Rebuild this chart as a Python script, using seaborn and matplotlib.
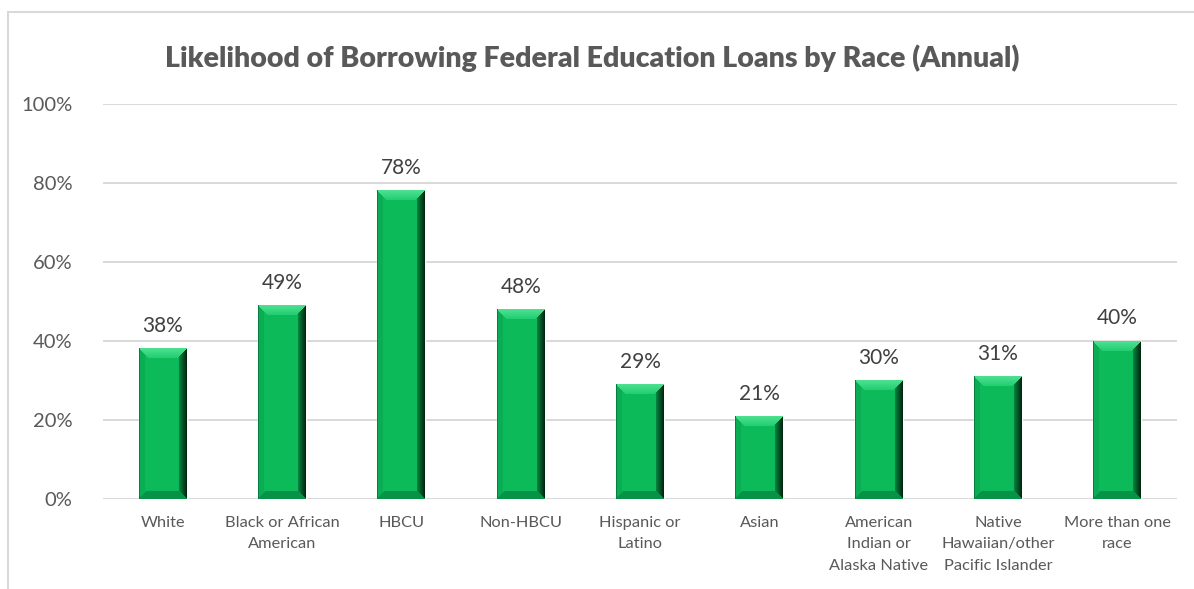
import numpy as np
import pandas as pd
import matplotlib
matplotlib.use("Agg")
import matplotlib.pyplot as plt
from matplotlib.patches import Rectangle
import seaborn as sns

categories = ["White", "Black or African\nAmerican", "HBCU", "Non-HBCU",
              "Hispanic or\nLatino", "Asian", "American\nIndian or\nAlaska Native",
              "Native\nHawaiian/other\nPacific Islander", "More than one\nrace"]
values = [0.38, 0.49, 0.78, 0.48, 0.29, 0.21, 0.30, 0.31, 0.40]
labels = ["38%", "49%", "78%", "48%", "29%", "21%", "30%", "31%", "40%"]
yticks = [0, 0.2, 0.4, 0.6, 0.8, 1.0]
ytick_labels = ["0%", "20%", "40%", "60%", "80%", "100%"]
title = "Likelihood of Borrowing Federal Education Loans by Race (Annual)"

sns.set_theme(style="white")
plt.rcParams['font.family'] = ['Lato', 'DejaVu Sans']

W, H, DPI = 1194, 589, 100
fig = plt.figure(figsize=(W / DPI, H / DPI), dpi=DPI)
ax = fig.add_axes([103 / W, 1 - 499 / H, (1177 - 103) / W, (499 - 104) / H])

df = pd.DataFrame({"cat": categories, "val": values})
sns.barplot(data=df, x="cat", y="val", color="#0CB556", width=0.4,
            saturation=1, ax=ax, zorder=2)

ax.set_ylim(0, 1.0)
ax.set_xlim(-0.5, len(categories) - 0.5)
ax.set_yticks(yticks)
ax.set_yticklabels(ytick_labels, fontsize=14.5, color="#595959")
ax.set_xticks(range(len(categories)))
ax.set_xticklabels(categories, fontsize=11.8, color="#595959", linespacing=1.68)
ax.tick_params(axis="y", length=0, pad=22)
ax.tick_params(axis="x", length=0, pad=12)
ax.set_xlabel("")
ax.set_ylabel("")
for s in ax.spines.values():
    s.set_visible(False)
ax.yaxis.grid(True, color="#D9D9D9", linewidth=1.4, zorder=0)
ax.set_axisbelow(True)

fig.canvas.draw()

# bevel shading for each bar
def bevel_image(wp, hp, b=8):
    img = np.zeros((hp, wp, 3))
    jj, ii = np.meshgrid(np.arange(wp), np.arange(hp))
    dt = ii
    db = hp - 1 - ii
    dl = jj
    dr = wp - 1 - jj
    center = np.array([0.05, 0.73, 0.35])
    img[:] = center
    dmin = np.minimum(np.minimum(dt, db), np.minimum(dl, dr))
    top = (dt == dmin) & (dt < b + 2)
    bot = (db == dmin) & (db < b) & ~top
    left = (dl == dmin) & (dl < b - 2) & ~top & ~bot
    right = (dr == dmin) & (dr < b) & ~top & ~bot
    img[left] = [0.04, 0.68, 0.33]
    fr = (dr[right] / b)[:, None]
    dark = np.array([0.0, 0.16, 0.06])
    mid = np.array([0.03, 0.55, 0.27])
    img[right] = dark * (1 - fr) + mid * fr
    ft = (dt[top] / (b + 2))[:, None]
    img[top] = np.array([0.30, 0.88, 0.56]) * (1 - ft) + np.array([0.12, 0.80, 0.44]) * ft
    img[bot] = [0.03, 0.58, 0.28]
    img[:, 0] = [0.02, 0.50, 0.24]
    return img

for p in list(ax.patches):
    x0, y0 = p.get_x(), p.get_y()
    w, h = p.get_width(), p.get_height()
    (px0, py0) = ax.transData.transform((x0, y0))
    (px1, py1) = ax.transData.transform((x0 + w, y0 + h))
    wp = max(int(round(px1 - px0)), 2)
    hp = max(int(round(py1 - py0)), 2)
    img = bevel_image(wp, hp)
    ax.imshow(img, extent=(x0, x0 + w, y0, y0 + h), aspect="auto",
              origin="upper", zorder=3, interpolation="bilinear")

ax.set_ylim(0, 1.0)
ax.set_xlim(-0.5, len(categories) - 0.5)

for i, (v, lab) in enumerate(zip(values, labels)):
    ax.annotate(lab, (i, v), xytext=(0, 9), textcoords="offset points",
                ha="center", va="bottom", fontsize=15, color="#404040")

fig.text(592 / W, 1 - 58 / H, title, ha="center", va="center",
         fontsize=20.5, fontweight="heavy", color="#595959")

fig.patches.append(Rectangle((8 / W, -0.5), 2, 1.5 - 12 / H,
                             transform=fig.transFigure, fill=False,
                             edgecolor="#D9D9D9", linewidth=1.5))

fig.savefig("out.png", dpi=DPI)
